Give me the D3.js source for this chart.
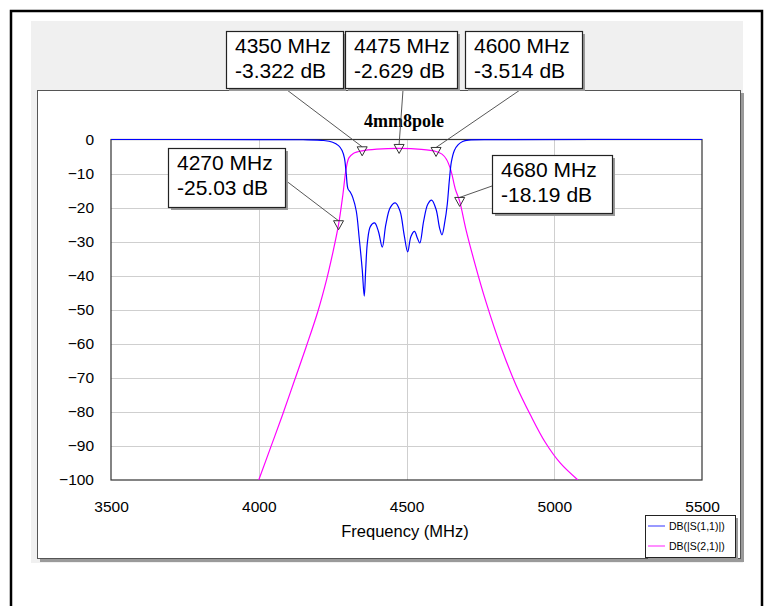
<!DOCTYPE html>
<html>
<head>
<meta charset="utf-8">
<script src="https://cdn.jsdelivr.net/npm/d3@7"></script>
<style>
  body { margin: 0; background: #fff; }
  svg { font-family: "Liberation Sans", Arial, sans-serif; }
</style>
</head>
<body>
<svg id="chart" width="767" height="606"></svg>
<script>
// ---- data ----
const chartTitle = '4mm8pole';
const xLabel = 'Frequency (MHz)';
const xTicks = [3500, 4000, 4500, 5000, 5500];
const yTicks = [0, -10, -20, -30, -40, -50, -60, -70, -80, -90, -100];
const seriesNames = ['DB(|S(1,1)|)', 'DB(|S(2,1)|)'];

// S11 (return loss)
const s11Freq = [3500, 4000, 4150, 4220, 4250, 4270, 4282, 4290, 4296, 4302, 4310, 4318, 4330, 4340, 4350, 4357,
  4362, 4368, 4378, 4392, 4405, 4418, 4430, 4445, 4462, 4478, 4492, 4504, 4515, 4527, 4537, 4545,
  4558, 4572, 4585, 4600, 4612, 4620, 4630, 4638, 4645, 4652, 4662, 4675, 4690, 4710, 4800, 5500];
const s11DB = [0, -0.02, -0.08, -0.3, -0.8, -1.8, -3.2, -5.5, -10, -14.5, -15.5, -17, -21, -29, -38, -46,
  -38, -30, -25.5, -24.5, -27, -31.6, -25, -20, -18.6, -21, -28, -33, -28.5, -27, -29, -30.4,
  -24, -19, -17.8, -20.5, -26, -28, -24, -19, -12, -6.5, -3.2, -1.5, -0.6, -0.2, -0.05, 0];

// S21 (insertion loss)
const s21Freq = [4000, 4040, 4080, 4120, 4160, 4200, 4230, 4250, 4270, 4285, 4295, 4305, 4320, 4350, 4400,
  4475, 4550, 4600, 4620, 4635, 4650, 4665, 4680, 4700, 4730, 4770, 4820, 4870, 4920, 4970, 5020, 5080];
const s21DB = [-100, -90.5, -81, -71, -61, -50.5, -41, -33.5, -25.03, -16, -9, -5.4, -4.1, -3.322, -2.85,
  -2.629, -2.9, -3.514, -4.3, -5.8, -9, -14.5, -18.19, -26, -36, -48, -61, -72, -81, -89, -95, -100];

// markers on S21
const markerFreq = [4270, 4350, 4475, 4600, 4680];
const markerDB = [-25.03, -3.322, -2.629, -3.514, -18.19];

// ---- layout ----
const svg = d3.select('#chart');
const plot = {left: 111, right: 702, top: 139.5, bottom: 480};
const sans = '"Liberation Sans", Arial, sans-serif';

// where each marker label box sits and where its leader starts
const boxLayout = [
  {x: 168, y: 148, w: 117, h: 59, lx: 285, ly: 180},
  {x: 226, y: 31, w: 117, h: 57, lx: 287, ly: 90},
  {x: 345, y: 31, w: 112, h: 57, lx: 403, ly: 90},
  {x: 465, y: 31, w: 117, h: 57, lx: 520, ly: 90},
  {x: 492, y: 155, w: 120, h: 58, lx: 492, ly: 186}
];

// frames
svg.append('rect').attr('x', 11).attr('y', 11).attr('width', 751).attr('height', 640)
  .attr('fill', '#fff').attr('stroke', '#000').attr('stroke-width', 2.5);
svg.append('rect').attr('x', 31).attr('y', 21).attr('width', 712).attr('height', 542)
  .attr('fill', '#f0f0f0');
svg.append('rect').attr('x', 40).attr('y', 93).attr('width', 704).attr('height', 469)
  .attr('fill', '#9a9a9a');
svg.append('rect').attr('x', 37.5).attr('y', 90.5).attr('width', 703).attr('height', 468)
  .attr('fill', '#fff').attr('stroke', '#555').attr('stroke-width', 1);

const x = d3.scaleLinear().domain([3500, 5500]).range([plot.left, plot.right]);
const y = d3.scaleLinear().domain([-100, 0]).range([plot.bottom, plot.top]);

// grid
const grid = svg.append('g');
grid.selectAll('line.h').data(yTicks.slice(1, -1)).enter().append('line')
  .attr('x1', plot.left).attr('x2', plot.right)
  .attr('y1', d => Math.round(y(d)) + 0.5).attr('y2', d => Math.round(y(d)) + 0.5)
  .attr('stroke', '#cfcfcf');
grid.selectAll('line.v').data(xTicks.slice(1, -1)).enter().append('line')
  .attr('y1', plot.top).attr('y2', plot.bottom)
  .attr('x1', d => Math.round(x(d)) + 0.5).attr('x2', d => Math.round(x(d)) + 0.5)
  .attr('stroke', '#cfcfcf');

// plot border
svg.append('rect').attr('x', plot.left).attr('y', plot.top)
  .attr('width', plot.right - plot.left).attr('height', plot.bottom - plot.top)
  .attr('fill', 'none').attr('stroke', '#333').attr('stroke-width', 1.2);

// axes (labels only, the frame is the border)
const yAxis = svg.append('g').attr('transform', `translate(${plot.left},0)`)
  .call(d3.axisLeft(y).tickValues(yTicks).tickSize(0).tickPadding(17));
yAxis.select('.domain').remove();
yAxis.selectAll('text').attr('fill', '#000')
  .style('font-family', sans).style('font-size', '15.5px');

const xAxis = svg.append('g').attr('transform', `translate(0,${plot.bottom})`)
  .call(d3.axisBottom(x).tickValues(xTicks).tickFormat(d3.format('d')).tickSize(0).tickPadding(21));
xAxis.select('.domain').remove();
xAxis.selectAll('text').attr('fill', '#000')
  .style('font-family', sans).style('font-size', '15.5px');

svg.append('text').attr('x', 405).attr('y', 537).attr('text-anchor', 'middle')
  .style('font-size', '16.5px').text(xLabel);

svg.append('text').attr('x', 404).attr('y', 127).attr('text-anchor', 'middle')
  .style('font-family', '"Liberation Serif", "Times New Roman", serif')
  .style('font-weight', 'bold').style('font-size', '18px').text(chartTitle);

// curves
svg.append('clipPath').attr('id', 'pclip').append('rect')
  .attr('x', plot.left).attr('y', plot.top - 1)
  .attr('width', plot.right - plot.left).attr('height', plot.bottom - plot.top + 1);

const line = d3.line().x(d => x(d[0])).y(d => y(d[1])).curve(d3.curveCatmullRom.alpha(0.5));
svg.append('path').datum(d3.zip(s21Freq, s21DB)).attr('d', line)
  .attr('fill', 'none').attr('stroke', '#ff00ff').attr('stroke-width', 1.2)
  .attr('clip-path', 'url(#pclip)');
svg.append('path').datum(d3.zip(s11Freq, s11DB)).attr('d', line)
  .attr('fill', 'none').attr('stroke', '#0000ff').attr('stroke-width', 1.2)
  .attr('clip-path', 'url(#pclip)');

// markers + labels
markerFreq.forEach((f, i) => {
  const px = x(f), py = y(markerDB[i]);
  const b = boxLayout[i];
  svg.append('line').attr('x1', b.lx).attr('y1', b.ly).attr('x2', px).attr('y2', py - 4)
    .attr('stroke', '#444').attr('stroke-width', 0.9);
  svg.append('path')
    .attr('d', `M${px - 5},${py - 4}L${px + 5},${py - 4}L${px},${py + 5}Z`)
    .attr('fill', 'none').attr('stroke', '#333').attr('stroke-width', 1);
  svg.append('rect').attr('x', b.x + 3).attr('y', b.y + 3).attr('width', b.w).attr('height', b.h)
    .attr('fill', '#9a9a9a');
  svg.append('rect').attr('x', b.x + 0.5).attr('y', b.y + 0.5).attr('width', b.w).attr('height', b.h)
    .attr('fill', '#fff').attr('stroke', '#222').attr('stroke-width', 1.2);
  svg.append('text').attr('x', b.x + 9).attr('y', b.y + 22).style('font-size', '21px')
    .text(`${f} MHz`);
  svg.append('text').attr('x', b.x + 9).attr('y', b.y + 47).style('font-size', '21px')
    .text(`${markerDB[i]} dB`);
});

// legend
const lg = svg.append('g').attr('transform', 'translate(645,515)');
lg.append('rect').attr('x', 3).attr('y', 3).attr('width', 90).attr('height', 42).attr('fill', '#9a9a9a');
lg.append('rect').attr('x', 0.5).attr('y', 0.5).attr('width', 90).attr('height', 42)
  .attr('fill', '#fff').attr('stroke', '#222');
const legendColors = ['#5555ff', '#ff44ff'];
seriesNames.forEach((name, i) => {
  const ly = 11 + i * 20;
  lg.append('line').attr('x1', 3).attr('x2', 20).attr('y1', ly).attr('y2', ly)
    .attr('stroke', legendColors[i]).attr('stroke-width', 1.2);
  lg.append('text').attr('x', 24).attr('y', ly + 4).style('font-size', '10.5px').text(name);
});
</script>
</body>
</html>
